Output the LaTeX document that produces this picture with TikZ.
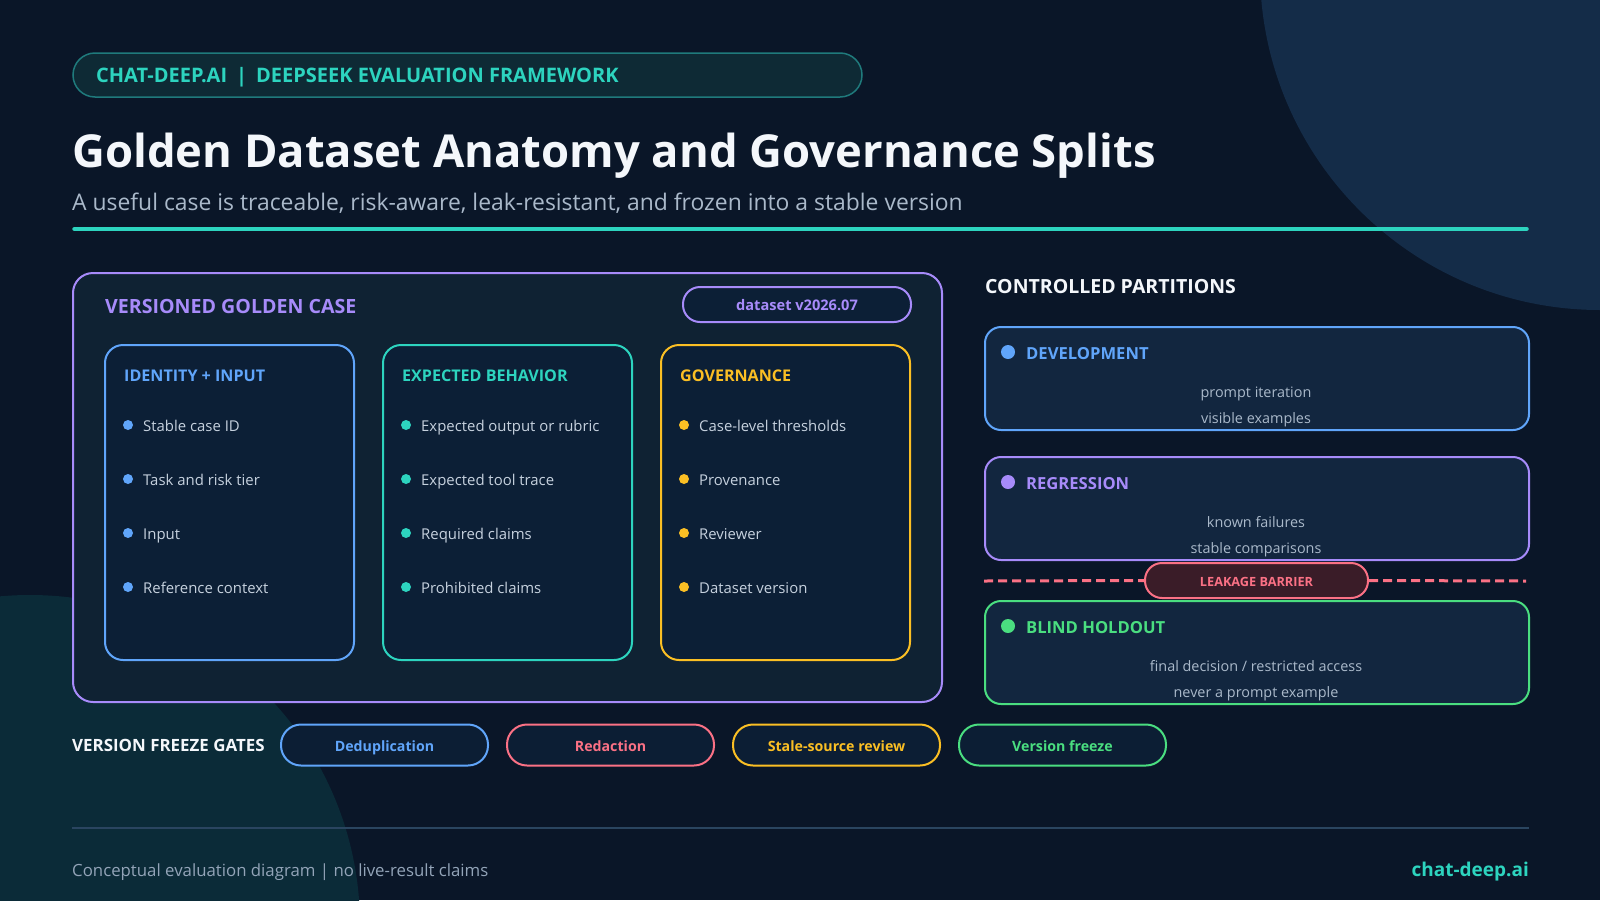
\documentclass[tikz,border=0pt]{standalone}
\usepackage{fontspec}
\setmainfont{Open Sans}
\usetikzlibrary{positioning, calc}
\definecolor{bgnavy}{HTML}{0A1628}
\definecolor{blobtop}{HTML}{142C48}
\definecolor{blobbot}{HTML}{0B2B38}
\definecolor{accteal}{HTML}{2DD4BF}
\definecolor{accblue}{HTML}{60A5FA}
\definecolor{accpurple}{HTML}{A78BFA}
\definecolor{accamber}{HTML}{FBBF24}
\definecolor{accgreen}{HTML}{4ADE80}
\definecolor{accpink}{HTML}{FB7185}
\definecolor{txtwhite}{HTML}{F4F7FB}
\definecolor{itemgray}{HTML}{C6D1DE}
\definecolor{subgray}{HTML}{AAB9CA}
\definecolor{footgray}{HTML}{93A4B8}
\definecolor{tagfill}{HTML}{0E2A35}
\definecolor{tagline}{HTML}{1F7A7C}
\definecolor{casefill}{HTML}{0F2233}
\definecolor{colfill}{HTML}{0C1F36}
\definecolor{partfill}{HTML}{12263F}
\definecolor{gatefill}{HTML}{0C1E34}
\definecolor{leakfill}{HTML}{3A1C28}
\definecolor{ruleline}{HTML}{2A4560}

\begin{document}
\begin{tikzpicture}[x=1pt, y=-1pt,
  box/.style={draw=#1, line width=2pt, rounded corners=18pt, fill=colfill,
    minimum width=249pt, minimum height=315pt, inner sep=0pt},
  part/.style={draw=#1, line width=2pt, rounded corners=16pt, fill=partfill,
    minimum width=544pt, minimum height=103pt, inner sep=0pt},
  pill/.style={draw=#1, line width=2pt, rounded corners=20pt, fill=gatefill,
    minimum width=207pt, minimum height=41pt, inner sep=0pt, text=#1,
    text height=13.5pt, text depth=0pt,
    font=\fontsize{14.2}{17}\selectfont\bfseries},
  head/.style={anchor=base west, inner sep=0pt, text=#1,
    font=\fontsize{16.1}{19}\selectfont\bfseries},
  item/.style={anchor=base west, inner sep=0pt, text=itemgray,
    font=\fontsize{14.9}{18}\selectfont},
  parthead/.style={anchor=base west, inner sep=0pt, text=#1,
    font=\fontsize{16.6}{20}\selectfont\bfseries},
  sub/.style={anchor=base, inner sep=0pt, text=subgray,
    font=\fontsize{14.4}{17}\selectfont},
]
\useasboundingbox (0,0) rectangle (1600,900);
% background
\begin{scope}
  \clip (0,0) rectangle (1600,900);
  \fill[bgnavy] (0,0) rectangle (1600,900);
  \fill[blobtop] (1600,-30) circle (340pt);
  \fill[blobbot] (30,925) circle (330pt);
\end{scope}
% header
\node[draw=tagline, line width=1.5pt, fill=tagfill, rounded corners=22pt,
  minimum width=789pt, minimum height=44pt, inner sep=0pt] (tag) at (467.5,75) {};
\node[anchor=base west, inner sep=0pt, text=accteal,
  font=\fontsize{20}{23}\selectfont\bfseries] (tagtext) at (96,82)
  {CHAT-DEEP.AI\hspace{0.45em}|\hspace{0.45em}DEEPSEEK EVALUATION FRAMEWORK};
\node[anchor=base west, inner sep=0pt, text=txtwhite,
  font=\fontsize{45.4}{52}\selectfont\bfseries] (title) at (72,167)
  {Golden Dataset Anatomy and Governance Splits};
\node[anchor=base west, inner sep=0pt, text=subgray,
  font=\fontsize{22.9}{27}\selectfont] (subtitle) at (72,210)
  {A useful case is traceable, risk-aware, leak-resistant, and frozen into a stable version};
\coordinate (rulea) at (74.5,229);
\coordinate (ruleb) at (1526.5,229);
\draw[accteal, line width=4.5pt, line cap=round] (rulea) -- (ruleb);
% versioned golden case
\node[draw=accpurple, line width=2pt, rounded corners=20pt, fill=casefill,
  minimum width=869pt, minimum height=429pt, inner sep=0pt] (case) at (507.5,487.5) {};
\node[anchor=base west, inner sep=0pt, text=accpurple,
  font=\fontsize{19.6}{23}\selectfont\bfseries] (casetitle) at (105,313)
  {VERSIONED GOLDEN CASE};
\node[draw=accpurple, line width=2pt, rounded corners=17pt, fill=colfill,
  minimum width=228pt, minimum height=35pt, inner sep=0pt, text=accpurple,
  text height=11pt, text depth=0pt,
  font=\fontsize{14.6}{17}\selectfont\bfseries] (version) at (797,304.5)
  {dataset v2026.07};
% three columns
\node[box=accblue] (ident) at (229.5,502.5) {};
\node[box=accteal] (expect) at (507.5,502.5) {};
\node[box=accamber] (gov) at (785.5,502.5) {};
\node[head=accblue] (identhead) at (124,381) {IDENTITY + INPUT};
\node[head=accteal] (expecthead) at (402,381) {EXPECTED BEHAVIOR};
\node[head=accamber] (govhead) at (680,381) {GOVERNANCE};
% identity items
\fill[accblue] (128,425) circle (5pt);
\fill[accblue] (128,479) circle (5pt);
\fill[accblue] (128,533) circle (5pt);
\fill[accblue] (128,587) circle (5pt);
\node[item] (ident1) at (143,431) {Stable case ID};
\node[item] (ident2) at (143,485) {Task and risk tier};
\node[item] (ident3) at (143,539) {Input};
\node[item] (ident4) at (143,593) {Reference context};
% expected behavior items
\fill[accteal] (406,425) circle (5pt);
\fill[accteal] (406,479) circle (5pt);
\fill[accteal] (406,533) circle (5pt);
\fill[accteal] (406,587) circle (5pt);
\node[item] (expect1) at (421,431) {Expected output or rubric};
\node[item] (expect2) at (421,485) {Expected tool trace};
\node[item] (expect3) at (421,539) {Required claims};
\node[item] (expect4) at (421,593) {Prohibited claims};
% governance items
\fill[accamber] (684,425) circle (5pt);
\fill[accamber] (684,479) circle (5pt);
\fill[accamber] (684,533) circle (5pt);
\fill[accamber] (684,587) circle (5pt);
\node[item] (gov1) at (699,431) {Case-level thresholds};
\node[item] (gov2) at (699,485) {Provenance};
\node[item] (gov3) at (699,539) {Reviewer};
\node[item] (gov4) at (699,593) {Dataset version};
% controlled partitions
\node[anchor=base west, inner sep=0pt, text=txtwhite,
  font=\fontsize{19.5}{23}\selectfont\bfseries] (parttitle) at (985,293)
  {CONTROLLED PARTITIONS};
\node[part=accblue] (dev) at (1257,378.5) {};
\node[part=accpurple] (reg) at (1257,508.5) {};
\node[part=accgreen] (hold) at (1257,652.5) {};
\fill[accblue] (1008,352) circle (7pt);
\fill[accpurple] (1008,482) circle (7pt);
\fill[accgreen] (1008,626) circle (7pt);
\node[parthead=accblue] (devhead) at (1026,359) {DEVELOPMENT};
\node[parthead=accpurple] (reghead) at (1026,489) {REGRESSION};
\node[parthead=accgreen] (holdhead) at (1026,633) {BLIND HOLDOUT};
\node[sub] (dev1) at (1256,397) {prompt iteration};
\node[sub] (dev2) at (1256,423) {visible examples};
\node[sub] (reg1) at (1256,527) {known failures};
\node[sub] (reg2) at (1256,553) {stable comparisons};
\node[sub] (hold1) at (1256,671) {final decision / restricted access};
\node[sub] (hold2) at (1256,697) {never a prompt example};
% leakage barrier
\coordinate (leaka) at (984,581);
\coordinate (leakb) at (1526,581);
\node[draw=accpink, line width=2pt, rounded corners=17pt, fill=leakfill,
  minimum width=223pt, minimum height=35pt, inner sep=0pt, text=accpink,
  text height=12pt, text depth=0pt,
  font=\fontsize{12.7}{15}\selectfont\bfseries] (leak) at (1256.5,580.5)
  {LEAKAGE BARRIER};
\draw[accpink, line width=3pt, dash pattern=on 9pt off 5pt] (leaka) -- (leak.west);
\draw[accpink, line width=3pt, dash pattern=on 9pt off 5pt] (leak.east) -- (leakb);
% version freeze gates
\node[anchor=base west, inner sep=0pt, text=txtwhite,
  font=\fontsize{16.9}{20}\selectfont\bfseries] (gates) at (72,751)
  {VERSION FREEZE GATES};
\node[pill=accblue] (gate1) at (384.5,745) {Deduplication};
\node[pill=accpink] (gate2) at (610.5,745) {Redaction};
\node[pill=accamber] (gate3) at (836.5,745) {Stale-source review};
\node[pill=accgreen] (gate4) at (1062.5,745) {Version freeze};
% footer
\coordinate (foota) at (72,828);
\coordinate (footb) at (1529,828);
\draw[ruleline, line width=2pt] (foota) -- (footb);
\node[anchor=base west, inner sep=0pt, text=footgray,
  font=\fontsize{16.8}{20}\selectfont] (foot) at (72,876)
  {Conceptual evaluation diagram | no live-result claims};
\node[anchor=base east, inner sep=0pt, text=accteal,
  font=\fontsize{19}{22}\selectfont\bfseries] (site) at (1529,876)
  {chat-deep.ai};
\end{tikzpicture}
\end{document}
